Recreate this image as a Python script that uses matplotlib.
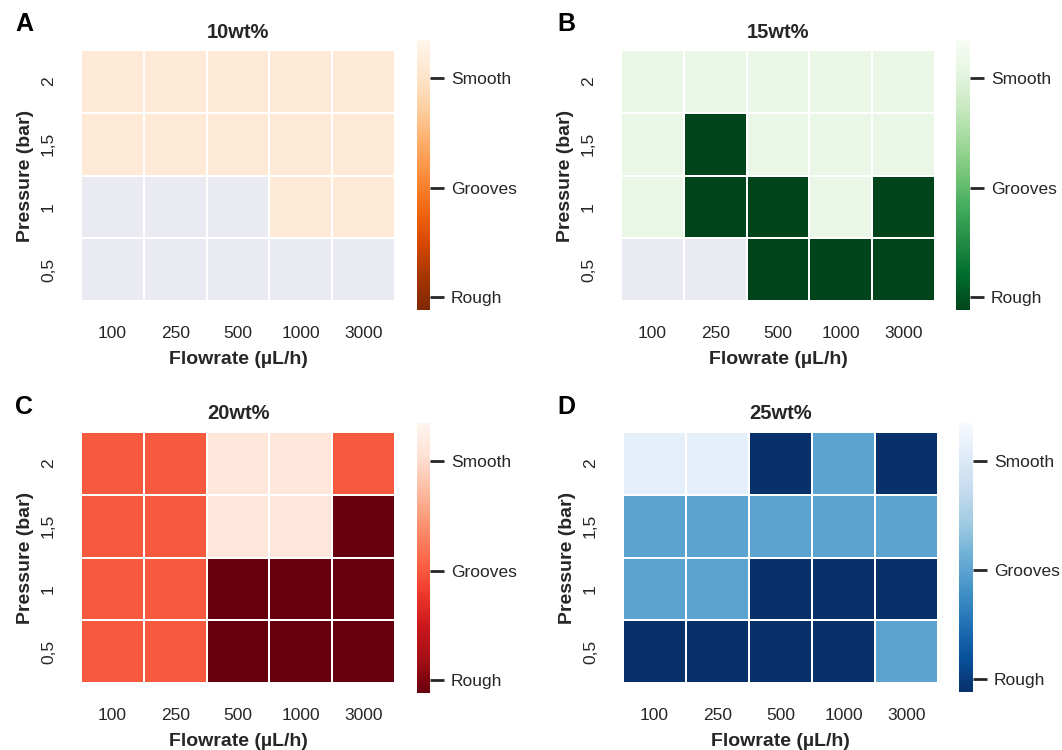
import numpy as np
import matplotlib
matplotlib.use('Agg')
from matplotlib import pyplot as plt
from matplotlib import cm, colors

plt.rcParams['font.family'] = ['Liberation Sans', 'DejaVu Sans']
plt.rcParams['text.color'] = '#262626'
plt.rcParams['axes.labelcolor'] = '#262626'
plt.rcParams['xtick.color'] = '#262626'
plt.rcParams['ytick.color'] = '#262626'

# datos: 0 = Rough, 1 = Grooves, 2 = Smooth, nan = sin medida
flowrate = ['100', '250', '500', '1000', '3000']
pressure = ['2', '1,5', '1', '0,5']
estados = ['Rough', 'Grooves', 'Smooth']
n = np.nan

wt10 = [[2, 2, 2, 2, 2],
        [2, 2, 2, 2, 2],
        [n, n, n, 2, 2],
        [n, n, n, n, n]]
wt15 = [[2, 2, 2, 2, 2],
        [2, 0, 2, 2, 2],
        [2, 0, 0, 2, 0],
        [n, n, 0, 0, 0]]
wt20 = [[1, 1, 2, 2, 1],
        [1, 1, 2, 2, 0],
        [1, 1, 0, 0, 0],
        [1, 1, 0, 0, 0]]
wt25 = [[2, 2, 0, 1, 0],
        [1, 1, 1, 1, 1],
        [1, 1, 0, 0, 0],
        [0, 0, 0, 0, 1]]

paneles = [('A', '10wt%', wt10, 'Oranges_r'),
           ('B', '15wt%', wt15, 'Greens_r'),
           ('C', '20wt%', wt20, 'Reds_r'),
           ('D', '25wt%', wt25, 'Blues_r')]

# posiciones en pixeles: mapa (x0, x1, y0, y1), barra (x0, x1, y0, y1)
W, H = 1062, 750
pos = [((81, 395, 50, 301), (417, 430, 40, 310)),
       ((621, 935, 50, 301), (956, 970, 40, 310)),
       ((81, 395, 432, 683), (417, 430, 423, 693)),
       ((623, 938, 432, 683), (959, 973, 423, 692))]

fig = plt.figure(figsize=(W / 100, H / 100), dpi=100)

for k, (letra, titulo, datos, cmap_name) in enumerate(paneles):
    m, b = pos[k]
    ax = fig.add_axes([m[0] / W, 1 - m[3] / H, (m[1] - m[0]) / W, (m[3] - m[2]) / H])
    cax = fig.add_axes([b[0] / W, 1 - b[3] / H, (b[1] - b[0]) / W, (b[3] - b[2]) / H])

    cmap = plt.get_cmap(cmap_name).copy()
    cmap.set_bad('#EAEAF2')
    arr = np.ma.masked_invalid(np.array(datos, dtype=float))
    ax.pcolormesh(arr, cmap=cmap, vmin=0, vmax=2.2,
                  edgecolors='white', linewidth=1.2)
    ax.set_xlim(0, len(flowrate))
    ax.set_ylim(len(pressure), 0)
    for s in ax.spines.values():
        s.set_visible(False)

    ax.set_xticks(np.arange(len(flowrate)) + 0.5)
    ax.set_xticklabels(flowrate, fontsize=12.5)
    ax.set_yticks(np.arange(len(pressure)) + 0.5)
    ax.set_yticklabels(pressure, fontsize=12.5, rotation=90, va='center')
    ax.tick_params(axis='x', length=0, pad=18)
    ax.tick_params(axis='y', length=0, pad=18)
    ax.set_xlabel('Flowrate (µL/h)', fontsize=14, fontweight='bold', labelpad=7)
    ax.set_ylabel('Pressure (bar)', fontsize=14, fontweight='bold', labelpad=5)
    ax.set_title(titulo, fontsize=14.5, fontweight='bold', pad=9)

    sm = cm.ScalarMappable(norm=colors.Normalize(vmin=-0.12, vmax=2.35), cmap=cmap)
    cb = fig.colorbar(sm, cax=cax, ticks=[0, 1, 2])
    cb.set_ticklabels(estados)
    cb.outline.set_visible(False)
    cax.tick_params(length=10, width=2, color='#262626', labelsize=12.5, pad=5)

    lx = 15 if k % 2 == 0 else 557
    ly = 24 if k < 2 else 407
    fig.text(lx / W, 1 - ly / H, letra, fontsize=18, fontweight='bold',
             color='black', va='center', ha='left')

fig.savefig('out.png', dpi=100)
